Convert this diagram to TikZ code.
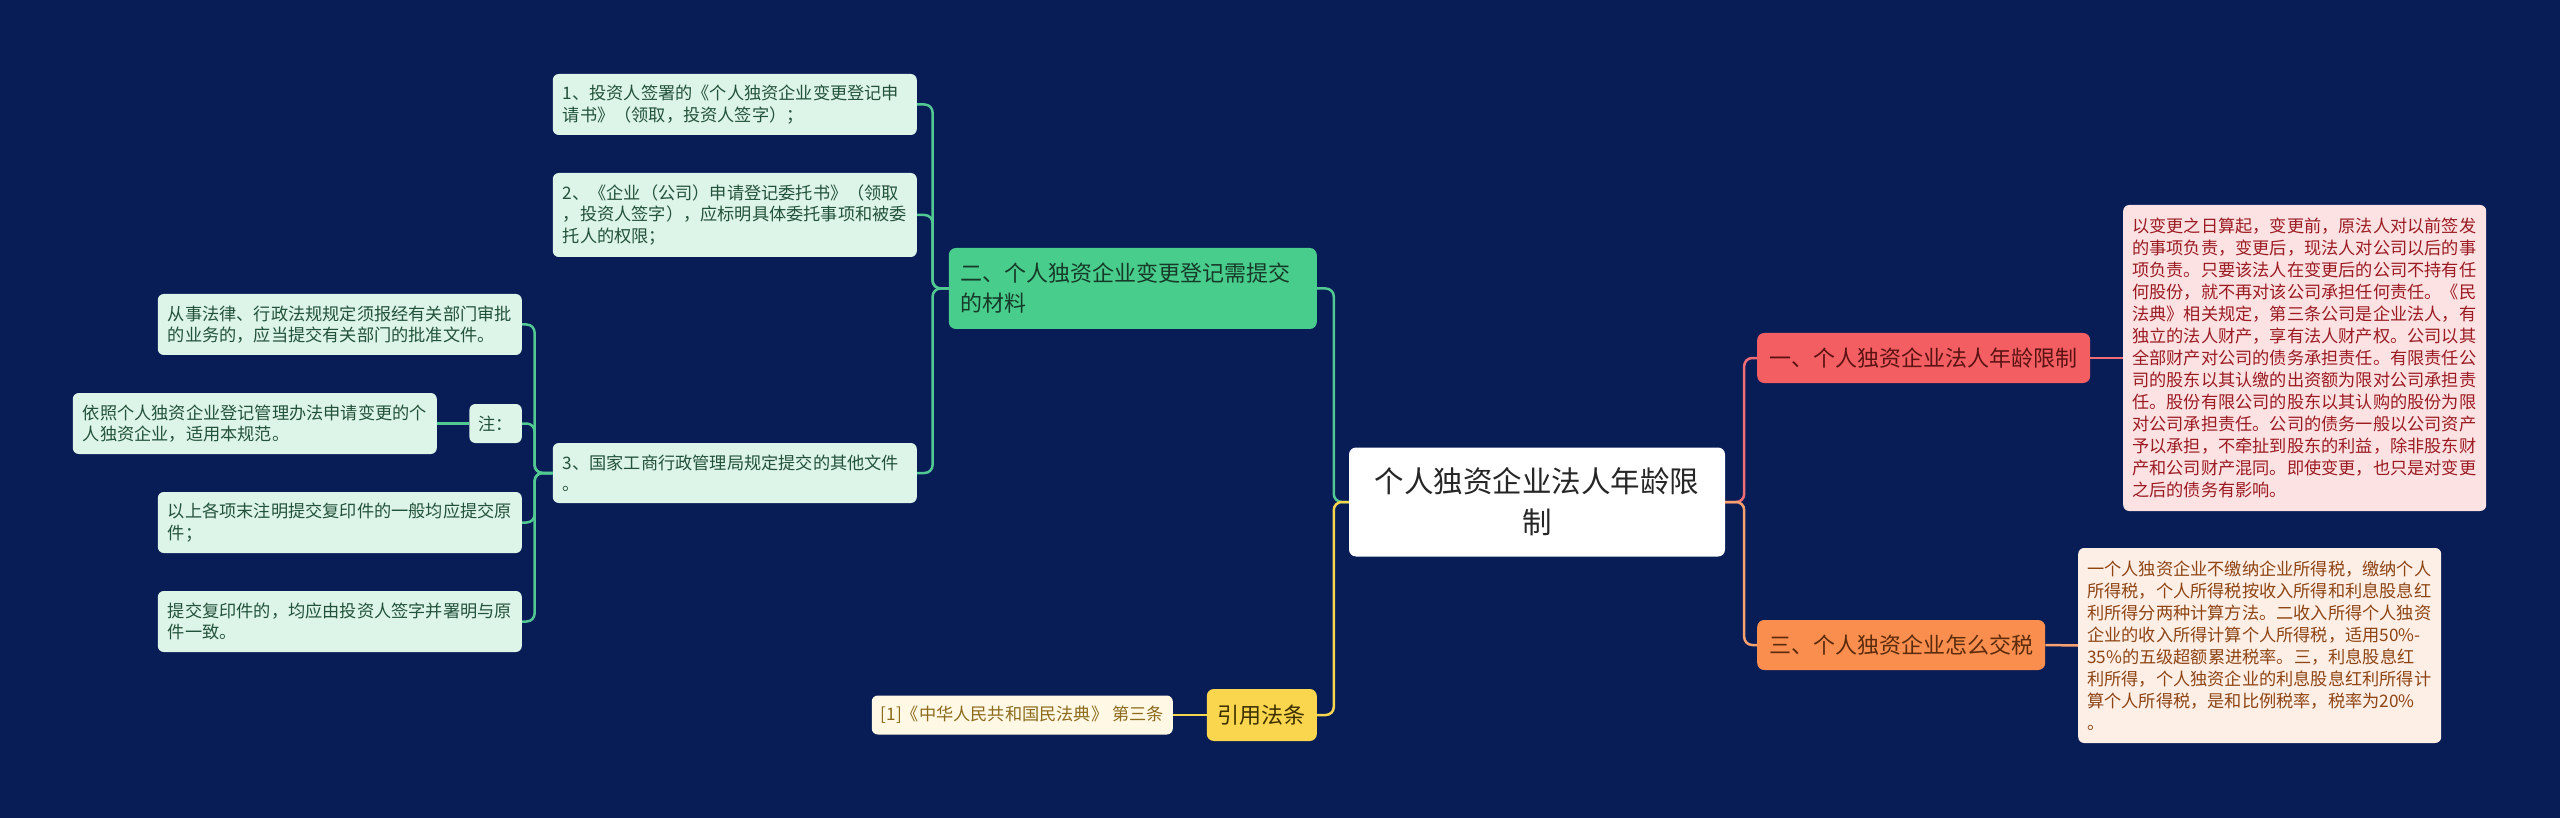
\documentclass[tikz,border=0pt]{standalone}
\usepackage{fontspec}
\setmainfont{Noto Sans CJK SC}

\definecolor{bgnavy}{HTML}{081C55}
\definecolor{roottext}{HTML}{262626}
\definecolor{greenline}{HTML}{52C892}
\definecolor{greenfill}{HTML}{49CD8C}
\definecolor{greentext}{HTML}{163A28}
\definecolor{leaffill}{HTML}{DDF4E8}
\definecolor{leaftext}{HTML}{23523A}
\definecolor{redline}{HTML}{EF6E76}
\definecolor{redfill}{HTML}{F35E62}
\definecolor{redtext}{HTML}{5A1212}
\definecolor{redpale}{HTML}{FDE2E3}
\definecolor{reddark}{HTML}{9A1B22}
\definecolor{orline}{HTML}{F7A070}
\definecolor{orfill}{HTML}{FA8E4F}
\definecolor{ortext}{HTML}{5B2B0C}
\definecolor{orpale}{HTML}{FDEEE6}
\definecolor{ordark}{HTML}{8E4514}
\definecolor{yelline}{HTML}{F7D54F}
\definecolor{yelfill}{HTML}{FAD54E}
\definecolor{yeltext}{HTML}{3C3000}
\definecolor{citefill}{HTML}{FFF8E4}
\definecolor{citetext}{HTML}{8B6A1B}

\begin{document}
\begin{tikzpicture}[
    x=1pt, y=-1pt,
    box/.style={fill=#1, rounded corners=6pt, inner ysep=0pt, align=left},
    small/.style={font=\fontsize{17.2}{21.5}\selectfont},
    big/.style={font=\fontsize{22}{30}\selectfont},
    topic/.style={box=#1, big, rounded corners=7pt, minimum height=50pt},
    leaf/.style={box=leaffill, small, text=leaftext, inner xsep=10pt, text width=344pt, minimum height=#1},
    note/.style={box=#1, font=\fontsize{17.2}{22}\selectfont, inner xsep=9pt, text width=345pt},
    link/.style={draw=#1, line width=2.5pt, rounded corners=8pt},
]

% Background
\fill[bgnavy] (0,0) rectangle (2560,818);

% Root
\node[box=white, text=roottext, font=\fontsize{29.5}{41}\selectfont, align=center,
      minimum width=376pt, minimum height=109pt, rounded corners=7pt] (root) at (1537, 502)
      {个人独资企业法人年龄限\\制};

% Right branches
\node[topic=redfill, text=redtext, minimum width=333pt, anchor=west] (n1) at (1757, 358)
      {一、个人独资企业法人年龄限制};
\node[topic=orfill, text=ortext, minimum width=288pt, anchor=west] (n3) at (1757, 645)
      {三、个人独资企业怎么交税};

\node[note=redpale, text=reddark, minimum height=306pt, anchor=west] (d1) at (2123, 358)
      {以变更之日算起，变更前，原法人对以前签发\\
       的事项负责，变更后，现法人对公司以后的事\\
       项负责。只要该法人在变更后的公司不持有任\\
       何股份，就不再对该公司承担任何责任。《民\\
       法典》相关规定，第三条公司是企业法人，有\\
       独立的法人财产，享有法人财产权。公司以其\\
       全部财产对公司的债务承担责任。有限责任公\\
       司的股东以其认缴的出资额为限对公司承担责\\
       任。股份有限公司的股东以其认购的股份为限\\
       对公司承担责任。公司的债务一般以公司资产\\
       予以承担，不牵扯到股东的利益，除非股东财\\
       产和公司财产混同。即使变更，也只是对变更\\
       之后的债务有影响。};
\node[note=orpale, text=ordark, minimum height=195pt, anchor=west] (d3) at (2078, 645.5)
      {一个人独资企业不缴纳企业所得税，缴纳个人\\
       所得税，个人所得税按收入所得和利息股息红\\
       利所得分两种计算方法。二收入所得个人独资\\
       企业的收入所得计算个人所得税，适用50\%-\\
       35\%的五级超额累进税率。三，利息股息红\\
       利所得，个人独资企业的利息股息红利所得计\\
       算个人所得税，是和比例税率，税率为20\%\\
       。};

% Left branch: materials
\node[topic=greenfill, text=greentext, inner xsep=12pt, text width=344pt, minimum height=81pt,
      anchor=east] (n2) at (1317, 288.5)
      {二、个人独资企业变更登记需提交\\的材料};

\node[leaf=61pt, anchor=east] (i1) at (917, 104.5)
      {1、投资人签署的《个人独资企业变更登记申\\请书》（领取，投资人签字）；};
\node[leaf=84pt, anchor=east] (i2) at (917, 215)
      {2、《企业（公司）申请登记委托书》（领取\\，投资人签字），应标明具体委托事项和被委\\托人的权限；};
\node[leaf=60pt, anchor=east] (i3) at (917, 473)
      {3、国家工商行政管理局规定提交的其他文件\\。};

\node[leaf=61pt, anchor=east] (l1) at (522, 324.5)
      {从事法律、行政法规规定须报经有关部门审批\\的业务的，应当提交有关部门的批准文件。};
\node[box=leaffill, small, text=leaftext, inner xsep=9pt, minimum height=39pt, anchor=east] (mark) at (522, 423.5)
      {注：};
\node[leaf=61pt, anchor=east] (l0) at (437, 423.5)
      {依照个人独资企业登记管理办法申请变更的个\\人独资企业，适用本规范。};
\node[leaf=61pt, anchor=east] (l2) at (522, 522.5)
      {以上各项末注明提交复印件的一般均应提交原\\件；};
\node[leaf=61pt, anchor=east] (l3) at (522, 621.5)
      {提交复印件的，均应由投资人签字并署明与原\\件一致。};

% Left branch: law
\node[topic=yelfill, text=yeltext, inner xsep=11pt, minimum height=52pt, anchor=east] (cite) at (1317, 715)
      {引用法条};
\node[box=citefill, text=citetext, font=\fontsize{17.2}{20}\selectfont, inner xsep=9pt,
      minimum height=39pt, anchor=east] (law) at (1173, 715)
      {[1]《中华人民共和国民法典》 第三条};

% Junctions
\coordinate (jl) at ([xshift=-15pt]root.west);
\coordinate (jr) at ([xshift=19pt]root.east);
\coordinate (jg) at ([xshift=-16pt]n2.west);
\coordinate (jn) at ([xshift=-18pt]i3.west);

% Connectors
\draw[link=greenline] (root.west) -- (jl) |- (n2.east);
\draw[link=yelline] (root.west) -- (jl) |- (cite.east);
\draw[link=yelline] (cite.west) -- (law.east);
\draw[link=redline] (root.east) -- (jr) |- (n1.west);
\draw[link=orline] (root.east) -- (jr) |- (n3.west);
\draw[link=redline] (n1.east) -- (d1.west);
\draw[link=orline] (n3.east) -- (d3.west);
\foreach \i in {i1, i2, i3}
  \draw[link=greenline] (n2.west) -- (jg) |- (\i.east);
\foreach \i in {l1, mark, l2, l3}
  \draw[link=greenline] (i3.west) -- (jn) |- (\i.east);
\draw[link=greenline] (mark.west) -- (l0.east);

\end{tikzpicture}
\end{document}
